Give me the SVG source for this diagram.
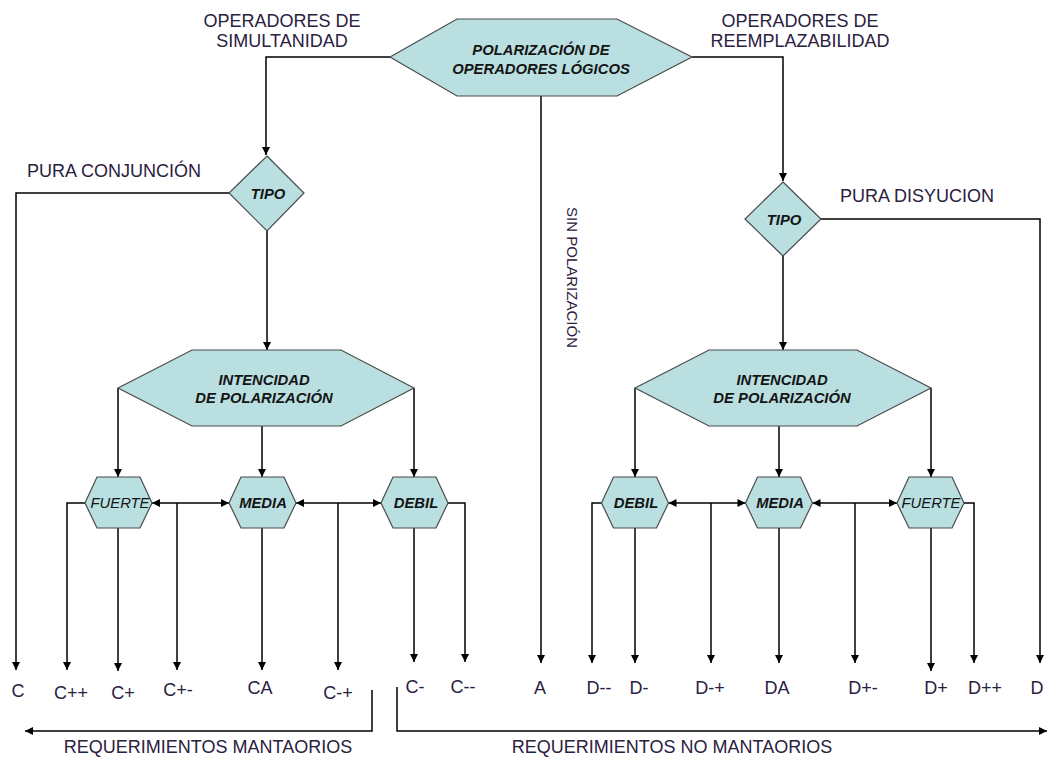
<svg xmlns="http://www.w3.org/2000/svg" width="1048" height="758" viewBox="0 0 1048 758">
  <style>
    .hex { fill: #b9dfe1; stroke: #4a4a4a; stroke-width: 1.2; }
    .wire { fill: none; stroke: #000; stroke-width: 1.5; }
    .node { font-family: "Liberation Sans", Arial, sans-serif; font-size: 14.8px; font-weight: bold; font-style: italic; fill: #141414; text-anchor: middle; }
    .node.light { font-weight: normal; }
    .lbl { font-family: "Liberation Sans", Arial, sans-serif; font-size: 18px; fill: #2a2040; text-anchor: middle; }
    .start { text-anchor: start; }
  </style>
  <defs>
    <marker id="ah" viewBox="0 0 10 10" refX="10" refY="5" markerWidth="9" markerHeight="8" orient="auto-start-reverse" markerUnits="userSpaceOnUse">
      <path d="M0,0 L10,5 L0,10 z" fill="#000"/>
    </marker>
  </defs>

  <rect width="1048" height="758" fill="#fff"/>

  <!-- connectors -->
  <g id="connectors" class="wire">
    <path d="M390,57 H266 V155" marker-end="url(#ah)"/>
    <path d="M692,57 H783 V181" marker-end="url(#ah)"/>
    <path d="M541,96 V663" marker-end="url(#ah)"/>
    <path d="M229,193 H16 V670" marker-end="url(#ah)"/>
    <path d="M267,231 V350" marker-end="url(#ah)"/>
    <path d="M821,219 H1040 V663" marker-end="url(#ah)"/>
    <path d="M783,256 V350" marker-end="url(#ah)"/>

    <path d="M118,388 V477" marker-end="url(#ah)"/>
    <path d="M414,388 V477" marker-end="url(#ah)"/>
    <path d="M262,426 V477" marker-end="url(#ah)"/>
    <path d="M635,388 V477" marker-end="url(#ah)"/>
    <path d="M931,388 V477" marker-end="url(#ah)"/>
    <path d="M779,426 V477" marker-end="url(#ah)"/>

    <path d="M152,503 H229" marker-start="url(#ah)" marker-end="url(#ah)"/>
    <path d="M296,503 H381" marker-start="url(#ah)" marker-end="url(#ah)"/>
    <path d="M668.5,503 H745.5" marker-start="url(#ah)" marker-end="url(#ah)"/>
    <path d="M812.5,503 H897" marker-start="url(#ah)" marker-end="url(#ah)"/>

    <path d="M177,503 V670" marker-end="url(#ah)"/>
    <path d="M338,503 V670" marker-end="url(#ah)"/>
    <path d="M711,503 V663" marker-end="url(#ah)"/>
    <path d="M855,503 V663" marker-end="url(#ah)"/>

    <path d="M85,503 H67 V670" marker-end="url(#ah)"/>
    <path d="M118,528 V671" marker-end="url(#ah)"/>
    <path d="M262,528 V670" marker-end="url(#ah)"/>
    <path d="M414,528 V662" marker-end="url(#ah)"/>
    <path d="M448,503 H465 V662" marker-end="url(#ah)"/>

    <path d="M601.5,503 H592 V663" marker-end="url(#ah)"/>
    <path d="M635,528 V663" marker-end="url(#ah)"/>
    <path d="M779,528 V663" marker-end="url(#ah)"/>
    <path d="M931,528 V671" marker-end="url(#ah)"/>
    <path d="M964,503 H974 V663" marker-end="url(#ah)"/>

    <path d="M372,690 V731 H25" marker-end="url(#ah)"/>
    <path d="M397,687 V731 H1047" marker-end="url(#ah)"/>
  </g>

  <!-- nodes -->
  <g id="polarizacion">
    <polygon class="hex" points="390,57 457,19 617,19 692,57 617,96 457,96"/>
    <text class="node" x="541" y="55">POLARIZACIÓN DE</text>
    <text class="node" x="541" y="74">OPERADORES LÓGICOS</text>
  </g>

  <g id="tipo-izq">
    <polygon class="hex" points="267,156 304,193 267,231 229,193"/>
    <text class="node" x="268" y="199">TIPO</text>
  </g>
  <g id="tipo-der">
    <polygon class="hex" points="783,182 821,219 783,256 745,219"/>
    <text class="node" x="784" y="225">TIPO</text>
  </g>

  <g id="intencidad-izq">
    <polygon class="hex" points="118,388 192,350 341,350 414,388 341,426 192,426"/>
    <text class="node" x="264" y="385">INTENCIDAD</text>
    <text class="node" x="264" y="403">DE POLARIZACIÓN</text>
  </g>
  <g id="intencidad-der">
    <polygon class="hex" points="635,388 709,350 857,350 931,388 857,426 709,426"/>
    <text class="node" x="782" y="385">INTENCIDAD</text>
    <text class="node" x="782" y="403">DE POLARIZACIÓN</text>
  </g>

  <g id="fuerte-izq">
    <polygon class="hex" points="85,503 97,477 140,477 152,503 140,528 97,528"/>
    <text class="node light" x="120" y="508">FUERTE</text>
  </g>
  <g id="media-izq">
    <polygon class="hex" points="229,503 241,477 284,477 296,503 284,528 241,528"/>
    <text class="node" x="263" y="508">MEDIA</text>
  </g>
  <g id="debil-izq">
    <polygon class="hex" points="381,503 393,477 436,477 448,503 436,528 393,528"/>
    <text class="node" x="416" y="508">DEBIL</text>
  </g>
  <g id="debil-der">
    <polygon class="hex" points="601.5,503 613.5,477 656.5,477 668.5,503 656.5,528 613.5,528"/>
    <text class="node" x="636" y="508">DEBIL</text>
  </g>
  <g id="media-der">
    <polygon class="hex" points="745.5,503 757.5,477 800.5,477 812.5,503 800.5,528 757.5,528"/>
    <text class="node" x="780" y="508">MEDIA</text>
  </g>
  <g id="fuerte-der">
    <polygon class="hex" points="897,503 909,477 952,477 964,503 952,528 909,528"/>
    <text class="node light" x="931" y="508">FUERTE</text>
  </g>

  <!-- branch labels -->
  <g id="etiquetas">
    <text class="lbl" x="282" y="27">OPERADORES DE</text>
    <text class="lbl" x="282" y="47">SIMULTANIDAD</text>
    <text class="lbl" x="800" y="27">OPERADORES DE</text>
    <text class="lbl" x="800" y="47">REEMPLAZABILIDAD</text>
    <text class="lbl" x="114" y="177">PURA CONJUNCIÓN</text>
    <text class="lbl" x="917" y="202">PURA DISYUCION</text>
    <text class="lbl start" transform="translate(567,207) rotate(90)" style="font-size:15px" textLength="141" lengthAdjust="spacingAndGlyphs">SIN POLARIZACIÓN</text>
  </g>

  <!-- result labels -->
  <g id="resultados">
    <text class="lbl" x="18" y="697">C</text>
    <text class="lbl" x="71" y="699">C++</text>
    <text class="lbl" x="123" y="699">C+</text>
    <text class="lbl" x="178" y="696">C+-</text>
    <text class="lbl" x="260" y="694">CA</text>
    <text class="lbl" x="338" y="699">C-+</text>
    <text class="lbl" x="415" y="693">C-</text>
    <text class="lbl" x="463" y="693">C--</text>
    <text class="lbl" x="540" y="694">A</text>
    <text class="lbl" x="599" y="694">D--</text>
    <text class="lbl" x="639" y="694">D-</text>
    <text class="lbl" x="710" y="694">D-+</text>
    <text class="lbl" x="777" y="694">DA</text>
    <text class="lbl" x="863" y="694">D+-</text>
    <text class="lbl" x="936" y="694">D+</text>
    <text class="lbl" x="985" y="694">D++</text>
    <text class="lbl" x="1037" y="694">D</text>
    <text class="lbl" x="208" y="753">REQUERIMIENTOS MANTAORIOS</text>
    <text class="lbl" x="672" y="753">REQUERIMIENTOS NO MANTAORIOS</text>
  </g>
</svg>
